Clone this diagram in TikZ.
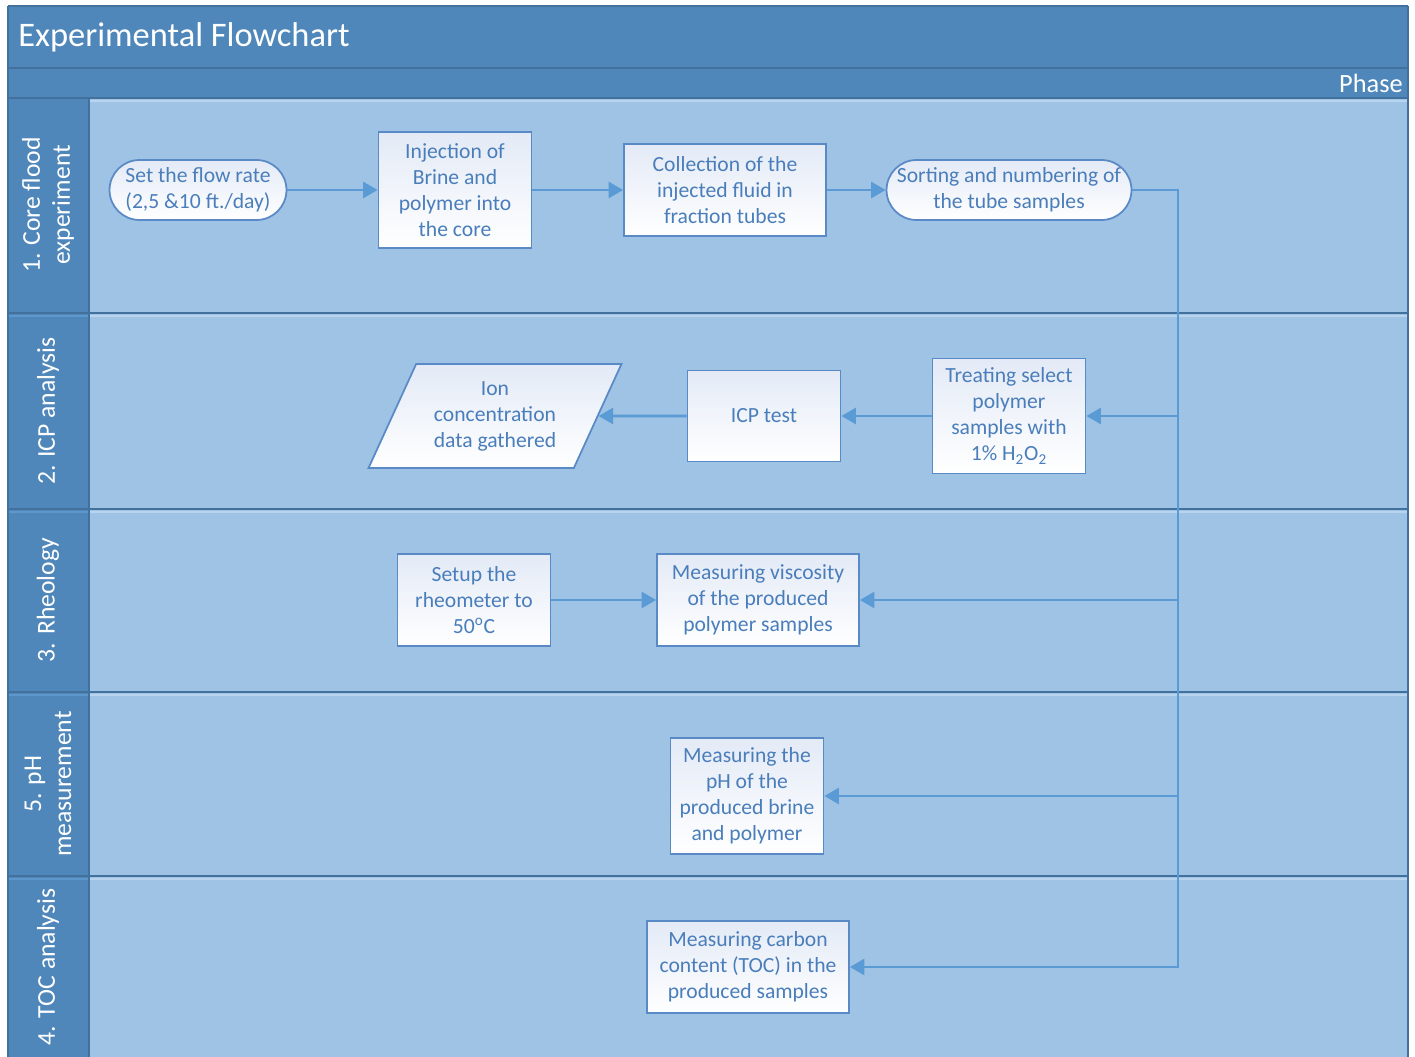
\documentclass[tikz,border=0pt]{standalone}
\usepackage{fontspec}
\setmainfont{Carlito}
\usetikzlibrary{positioning,shapes.geometric,arrows.meta}

\definecolor{headblue}{HTML}{4F87BA}
\definecolor{laneblue}{HTML}{9FC3E5}
\definecolor{darkline}{HTML}{41719C}
\definecolor{lightline}{HTML}{B9D4EE}
\definecolor{headline}{HTML}{5E97CB}
\definecolor{nodeline}{HTML}{5A8AC6}
\definecolor{nodetext}{HTML}{4A7EBB}
\definecolor{nodetop}{HTML}{E3EAF6}
\definecolor{flowblue}{HTML}{5B9BD5}

\tikzset{
  box/.style={draw=nodeline, line width=1pt, top color=nodetop, bottom color=white,
    text=nodetext, font=\fontsize{12.3}{14.8}\selectfont, align=center, inner sep=2pt},
  terminal/.style={box, rounded corners=0.6cm, minimum height=1.2cm},
  datashape/.style={box, trapezium, trapezium left angle=63, trapezium right angle=117,
    trapezium stretches=true},
  lanelabel/.style={rotate=90, text=white, font=\fontsize{14.6}{17}\selectfont, align=center},
  flow/.style={draw=flowblue, line width=1.5pt, -{Triangle[length=0.29cm,width=0.32cm]}},
  sep/.style={draw=darkline, line width=1.2pt}
}

\begin{document}
\begin{tikzpicture}[x=0.02cm, y=-0.02cm]
    \useasboundingbox (0,0) rectangle (1415,1057);
    % background of the swimlanes
    \fill[white] (0,0) rectangle (1415,1057);
    \fill[laneblue] (89,98) rectangle (1408,1057);
    \fill[headblue] (8,6) rectangle (1408,98);
    \fill[headblue] (8,98) rectangle (89,1057);
    \draw[sep] (8,68) -- (1408,68);
    \draw[sep] (8,98) -- (1408,98);
    \draw[lightline, line width=1pt] (90,101) -- (1407,101);
    \foreach \y in {313,509,692,876} {
        \draw[sep] (8,\y) -- (1408,\y);
        \draw[lightline, line width=1pt] (90,\y+3) -- (1407,\y+3);
        \draw[headline, line width=1pt] (9,\y+3) -- (88,\y+3);
    }
    \draw[sep] (89,98) -- (89,1057);
    \draw[sep] (8,6) -- (8,1057);
    \draw[sep] (1408,6) -- (1408,1057);
    \draw[sep] (8,6) -- (1408,6);

    \node[anchor=west, text=white, inner sep=0pt, font=\fontsize{19.6}{23}\selectfont] (title) at (18,37) {Experimental Flowchart};
    \node[anchor=east, text=white, inner sep=0pt, font=\fontsize{15}{18}\selectfont] (phase) at (1403,83) {Phase};

    % lane labels
    \node[lanelabel] (lane_core) at (48,205) {1. Core flood\\experiment};
    \node[lanelabel] (lane_icp)  at (48,411) {2. ICP analysis};
    \node[lanelabel] (lane_rheo) at (48,600) {3. Rheology};
    \node[lanelabel] (lane_ph)   at (48,784) {5. pH\\measurement};
    \node[lanelabel] (lane_toc)  at (48,967) {4. TOC analysis};

    % 1. core flood
    \node[terminal, minimum width=3.54cm] (flowrate) at (198,190) {Set the flow rate\\(2,5 \&10 ft./day)};
    \node[box, minimum width=3.06cm, minimum height=2.32cm] (inject) at (455,190) {Injection of\\Brine and\\polymer into\\the core};
    \node[box, minimum width=4.04cm, minimum height=1.84cm] (collect) at (725,190) {Collection of the\\injected fluid in\\fraction tubes};
    \node[terminal, minimum width=4.9cm] (sorting) at (1009,190) {Sorting and numbering of\\the tube samples};

    % 2. ICP
    \node[box, minimum width=3.06cm, minimum height=2.3cm] (treating) at (1009,416) {Treating select\\polymer\\samples with\\1\% H\textsubscript{2}O\textsubscript{2}};
    \node[box, minimum width=3.06cm, minimum height=1.82cm] (icp) at (764,416) {ICP test};
    \node[datashape, minimum width=5.06cm, minimum height=2.08cm] (ion) at (495,416) {Ion\\concentration\\data gathered};

    % 3. rheology
    \node[box, minimum width=3.06cm, minimum height=1.84cm] (rheometer) at (474,600) {Setup the\\rheometer to\\50\textsuperscript{o}C};
    \node[box, minimum width=4.04cm, minimum height=1.84cm] (viscosity) at (758,600) {Measuring viscosity\\of the produced\\polymer samples};

    % 5. pH and 4. TOC
    \node[box, minimum width=3.06cm, minimum height=2.32cm] (ph) at (747,796) {Measuring the\\pH of the\\produced brine\\and polymer};
    \node[box, minimum width=4.04cm, minimum height=1.84cm] (toc) at (748,967) {Measuring carbon\\content (TOC) in the\\produced samples};

    \coordinate (trunk_top) at (1178,190);

    \draw[flow] (flowrate) -- (inject);
    \draw[flow] (inject) -- (collect);
    \draw[flow] (collect) -- (sorting);
    \draw[flow] (sorting.east) -- (trunk_top) |- (toc.east);
    \draw[flow] (trunk_top |- treating) -- (treating);
    \draw[flow] (treating) -- (icp);
    \draw[flow] (icp) -- (ion);
    \draw[flow] (rheometer) -- (viscosity);
    \draw[flow] (trunk_top |- viscosity) -- (viscosity);
    \draw[flow] (trunk_top |- ph) -- (ph);
\end{tikzpicture}
\end{document}
